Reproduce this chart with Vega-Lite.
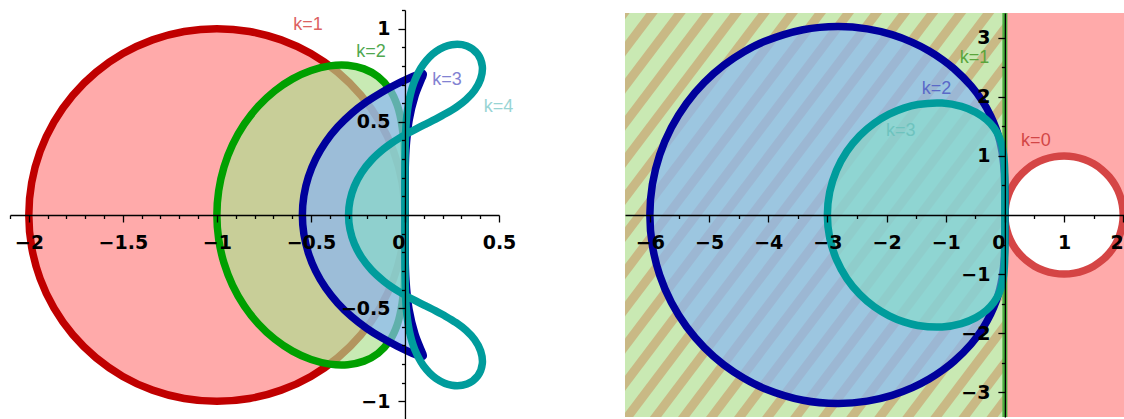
{
  "$schema": "https://vega.github.io/schema/vega-lite/v6.json",
  "background": "white",
  "padding": {"left": 9, "top": 9, "right": 0, "bottom": 0},
  "bounds": "flush",
  "center": true,
  "spacing": 126,
  "resolve": {"scale": {"color": "independent"}},
  "config": {
    "view": {"stroke": null},
    "line": {"interpolate": "catmull-rom", "strokeJoin": "round"},
    "axis": {
      "grid": false,
      "title": null,
      "zindex": 1,
      "domainColor": "black",
      "domainWidth": 1.3,
      "tickColor": "black",
      "tickWidth": 1.3,
      "labelColor": "black",
      "labelFont": "DejaVu Sans",
      "labelFontSize": 19,
      "labelFontWeight": "bold",
      "labelOverlap": false,
      "labelFlush": false,
      "format": "~g"
    }
  },
  "datasets": {
    "ab1": [
      {"i": 0, "re": 0, "im": 0}, {"i": 1, "re": -0.0152, "im": 0.1737}, {"i": 2, "re": -0.0603, "im": 0.342},
      {"i": 3, "re": -0.134, "im": 0.5}, {"i": 4, "re": -0.234, "im": 0.6428}, {"i": 5, "re": -0.3572, "im": 0.766},
      {"i": 6, "re": -0.5, "im": 0.866}, {"i": 7, "re": -0.658, "im": 0.9397}, {"i": 8, "re": -0.8264, "im": 0.9848},
      {"i": 9, "re": -1, "im": 1}, {"i": 10, "re": -1.1736, "im": 0.9848}, {"i": 11, "re": -1.342, "im": 0.9397},
      {"i": 12, "re": -1.5, "im": 0.866}, {"i": 13, "re": -1.6428, "im": 0.766}, {"i": 14, "re": -1.766, "im": 0.6428},
      {"i": 15, "re": -1.866, "im": 0.5}, {"i": 16, "re": -1.9397, "im": 0.342}, {"i": 17, "re": -1.9848, "im": 0.1737},
      {"i": 18, "re": -2, "im": 0}, {"i": 19, "re": -1.9848, "im": -0.1737}, {"i": 20, "re": -1.9397, "im": -0.342},
      {"i": 21, "re": -1.866, "im": -0.5}, {"i": 22, "re": -1.766, "im": -0.6428}, {"i": 23, "re": -1.6428, "im": -0.766},
      {"i": 24, "re": -1.5, "im": -0.866}, {"i": 25, "re": -1.342, "im": -0.9397}, {"i": 26, "re": -1.1736, "im": -0.9848},
      {"i": 27, "re": -1, "im": -1}, {"i": 28, "re": -0.8264, "im": -0.9848}, {"i": 29, "re": -0.658, "im": -0.9397},
      {"i": 30, "re": -0.5, "im": -0.866}, {"i": 31, "re": -0.3572, "im": -0.766}, {"i": 32, "re": -0.234, "im": -0.6428},
      {"i": 33, "re": -0.134, "im": -0.5}, {"i": 34, "re": -0.0603, "im": -0.342}, {"i": 35, "re": -0.0152, "im": -0.1737},
      {"i": 36, "re": 0, "im": 0}
    ],
    "ab2": [
      {"i": 0, "re": 0, "im": 0}, {"i": 1, "re": -0.0002, "im": 0.1724}, {"i": 2, "re": -0.0033, "im": 0.3326},
      {"i": 3, "re": -0.0149, "im": 0.4721}, {"i": 4, "re": -0.0405, "im": 0.5871}, {"i": 5, "re": -0.0831, "im": 0.677},
      {"i": 6, "re": -0.1429, "im": 0.7423}, {"i": 7, "re": -0.2179, "im": 0.7841}, {"i": 8, "re": -0.3049, "im": 0.8031},
      {"i": 9, "re": -0.4, "im": 0.8}, {"i": 10, "re": -0.499, "im": 0.7755}, {"i": 11, "re": -0.5977, "im": 0.7304},
      {"i": 12, "re": -0.6923, "im": 0.6662}, {"i": 13, "re": -0.779, "im": 0.5844}, {"i": 14, "re": -0.8547, "im": 0.4872},
      {"i": 15, "re": -0.9166, "im": 0.3772}, {"i": 16, "re": -0.9624, "im": 0.2572}, {"i": 17, "re": -0.9905, "im": 0.1303},
      {"i": 18, "re": -1, "im": 0}, {"i": 19, "re": -0.9905, "im": -0.1303}, {"i": 20, "re": -0.9624, "im": -0.2572},
      {"i": 21, "re": -0.9166, "im": -0.3772}, {"i": 22, "re": -0.8547, "im": -0.4872}, {"i": 23, "re": -0.779, "im": -0.5844},
      {"i": 24, "re": -0.6923, "im": -0.6662}, {"i": 25, "re": -0.5977, "im": -0.7304}, {"i": 26, "re": -0.499, "im": -0.7755},
      {"i": 27, "re": -0.4, "im": -0.8}, {"i": 28, "re": -0.3049, "im": -0.8031}, {"i": 29, "re": -0.2179, "im": -0.7841},
      {"i": 30, "re": -0.1429, "im": -0.7423}, {"i": 31, "re": -0.0831, "im": -0.677}, {"i": 32, "re": -0.0405, "im": -0.5871},
      {"i": 33, "re": -0.0149, "im": -0.4721}, {"i": 34, "re": -0.0033, "im": -0.3326}, {"i": 35, "re": -0.0002, "im": -0.1724},
      {"i": 36, "re": 0, "im": 0}
    ],
    "ab3": [
      {"i": 0, "re": 0, "im": 0}, {"i": 1, "re": 0.0003, "im": 0.1745}, {"i": 2, "re": 0.0051, "im": 0.347},
      {"i": 3, "re": 0.0221, "im": 0.5083}, {"i": 4, "re": 0.0535, "im": 0.6396}, {"i": 5, "re": 0.0856, "im": 0.7229},
      {"i": 6, "re": 0.0951, "im": 0.7455}, {"i": 7, "re": 0.0972, "im": 0.7573}, {"i": 8, "re": 0.0911, "im": 0.7604},
      {"i": 9, "re": 0.0768, "im": 0.7569}, {"i": 10, "re": 0.0553, "im": 0.7485}, {"i": 11, "re": 0.0275, "im": 0.7364},
      {"i": 12, "re": -0.0414, "im": 0.7034}, {"i": 13, "re": -0.1207, "im": 0.6606}, {"i": 14, "re": -0.2032, "im": 0.6081},
      {"i": 15, "re": -0.2835, "im": 0.5455}, {"i": 16, "re": -0.3574, "im": 0.473}, {"i": 17, "re": -0.422, "im": 0.3912},
      {"i": 18, "re": -0.4746, "im": 0.3011}, {"i": 19, "re": -0.5135, "im": 0.2046}, {"i": 20, "re": -0.5374, "im": 0.1035},
      {"i": 21, "re": -0.5455, "im": 0},
      {"i": 22, "re": -0.5374, "im": -0.1035}, {"i": 23, "re": -0.5135, "im": -0.2046}, {"i": 24, "re": -0.4746, "im": -0.3011},
      {"i": 25, "re": -0.422, "im": -0.3912}, {"i": 26, "re": -0.3574, "im": -0.473}, {"i": 27, "re": -0.2835, "im": -0.5455},
      {"i": 28, "re": -0.2032, "im": -0.6081}, {"i": 29, "re": -0.1207, "im": -0.6606}, {"i": 30, "re": -0.0414, "im": -0.7034},
      {"i": 31, "re": 0.0275, "im": -0.7364}, {"i": 32, "re": 0.0553, "im": -0.7485}, {"i": 33, "re": 0.0768, "im": -0.7569},
      {"i": 34, "re": 0.0911, "im": -0.7604}, {"i": 35, "re": 0.0972, "im": -0.7573}, {"i": 36, "re": 0.0951, "im": -0.7455},
      {"i": 37, "re": 0.0856, "im": -0.7229}, {"i": 38, "re": 0.0535, "im": -0.6396}, {"i": 39, "re": 0.0221, "im": -0.5083},
      {"i": 40, "re": 0.0051, "im": -0.347}, {"i": 41, "re": 0.0003, "im": -0.1745}, {"i": 42, "re": 0, "im": 0}
    ],
    "ab4": [
      {"i": 0, "re": 0, "im": 0}, {"i": 1, "re": 0, "im": 0.0873}, {"i": 2, "re": 0, "im": 0.1746},
      {"i": 3, "re": 0.0002, "im": 0.2622}, {"i": 4, "re": 0.0009, "im": 0.3506}, {"i": 5, "re": 0.0035, "im": 0.4406},
      {"i": 6, "re": 0.01, "im": 0.5327}, {"i": 7, "re": 0.0244, "im": 0.627}, {"i": 8, "re": 0.0519, "im": 0.721},
      {"i": 9, "re": 0.0983, "im": 0.8084}, {"i": 10, "re": 0.166, "im": 0.8775}, {"i": 11, "re": 0.2488, "im": 0.9133},
      {"i": 12, "re": 0.3296, "im": 0.9066}, {"i": 13, "re": 0.3876, "im": 0.8625}, {"i": 14, "re": 0.4113, "im": 0.7976},
      {"i": 15, "re": 0.4024, "im": 0.7297}, {"i": 16, "re": 0.3703, "im": 0.6691}, {"i": 17, "re": 0.3244, "im": 0.6188},
      {"i": 18, "re": 0.272, "im": 0.5779}, {"i": 19, "re": 0.2173, "im": 0.544}, {"i": 20, "re": 0.1631, "im": 0.5146},
      {"i": 21, "re": 0.1104, "im": 0.488}, {"i": 22, "re": 0.0602, "im": 0.4625}, {"i": 23, "re": 0.0127, "im": 0.4371},
      {"i": 24, "re": -0.0319, "im": 0.4112}, {"i": 25, "re": -0.0734, "im": 0.3841}, {"i": 26, "re": -0.1116, "im": 0.3557},
      {"i": 27, "re": -0.1782, "im": 0.2944}, {"i": 28, "re": -0.2309, "im": 0.227}, {"i": 29, "re": -0.2691, "im": 0.1545},
      {"i": 30, "re": -0.2922, "im": 0.0782}, {"i": 31, "re": -0.3, "im": 0},
      {"i": 32, "re": -0.2922, "im": -0.0782}, {"i": 33, "re": -0.2691, "im": -0.1545}, {"i": 34, "re": -0.2309, "im": -0.227},
      {"i": 35, "re": -0.1782, "im": -0.2944}, {"i": 36, "re": -0.1116, "im": -0.3557}, {"i": 37, "re": -0.0734, "im": -0.3841},
      {"i": 38, "re": -0.0319, "im": -0.4112}, {"i": 39, "re": 0.0127, "im": -0.4371}, {"i": 40, "re": 0.0602, "im": -0.4625},
      {"i": 41, "re": 0.1104, "im": -0.488}, {"i": 42, "re": 0.1631, "im": -0.5146}, {"i": 43, "re": 0.2173, "im": -0.544},
      {"i": 44, "re": 0.272, "im": -0.5779}, {"i": 45, "re": 0.3244, "im": -0.6188}, {"i": 46, "re": 0.3703, "im": -0.6691},
      {"i": 47, "re": 0.4024, "im": -0.7297}, {"i": 48, "re": 0.4113, "im": -0.7976}, {"i": 49, "re": 0.3876, "im": -0.8625},
      {"i": 50, "re": 0.3296, "im": -0.9066}, {"i": 51, "re": 0.2488, "im": -0.9133}, {"i": 52, "re": 0.166, "im": -0.8775},
      {"i": 53, "re": 0.0983, "im": -0.8084}, {"i": 54, "re": 0.0519, "im": -0.721}, {"i": 55, "re": 0.0244, "im": -0.627},
      {"i": 56, "re": 0.01, "im": -0.5327}, {"i": 57, "re": 0.0035, "im": -0.4406}, {"i": 58, "re": 0.0009, "im": -0.3506},
      {"i": 59, "re": 0.0002, "im": -0.2622}, {"i": 60, "re": 0, "im": -0.1746}, {"i": 61, "re": 0, "im": -0.0873},
      {"i": 62, "re": 0, "im": 0}
    ],
    "ab4Stable": [
      {"i": 0, "re": 0, "im": 0}, {"i": 1, "re": 0, "im": 0.0873}, {"i": 2, "re": 0, "im": 0.1746},
      {"i": 3, "re": 0.0002, "im": 0.2622}, {"i": 4, "re": 0.0009, "im": 0.3506}, {"i": 5, "re": 0.0032, "im": 0.4317},
      {"i": 6, "re": -0.0319, "im": 0.4112}, {"i": 7, "re": -0.0734, "im": 0.3841}, {"i": 8, "re": -0.1116, "im": 0.3557},
      {"i": 9, "re": -0.1782, "im": 0.2944}, {"i": 10, "re": -0.2309, "im": 0.227}, {"i": 11, "re": -0.2691, "im": 0.1545},
      {"i": 12, "re": -0.2922, "im": 0.0782}, {"i": 13, "re": -0.3, "im": 0}, {"i": 14, "re": -0.2922, "im": -0.0782},
      {"i": 15, "re": -0.2691, "im": -0.1545}, {"i": 16, "re": -0.2309, "im": -0.227}, {"i": 17, "re": -0.1782, "im": -0.2944},
      {"i": 18, "re": -0.1116, "im": -0.3557}, {"i": 19, "re": -0.0734, "im": -0.3841}, {"i": 20, "re": -0.0319, "im": -0.4112},
      {"i": 21, "re": 0.0032, "im": -0.4317}, {"i": 22, "re": 0.0009, "im": -0.3506}, {"i": 23, "re": 0.0002, "im": -0.2622},
      {"i": 24, "re": 0, "im": -0.1746}, {"i": 25, "re": 0, "im": -0.0873}, {"i": 26, "re": 0, "im": 0}
    ],
    "abNotes": [
      {"k": "k=1", "re": -0.516, "im": 1.017},
      {"k": "k=2", "re": -0.181, "im": 0.873},
      {"k": "k=3", "re": 0.223, "im": 0.724},
      {"k": "k=4", "re": 0.498, "im": 0.582}
    ],
    "halfPlanes": [
      {"side": "Re<0", "re": -6.42, "re2": 0, "im": -3.42, "im2": 3.42},
      {"side": "Re>0", "re": 0, "re2": 2.03, "im": -3.42, "im2": 3.42}
    ],
    "hatch": [
      {"ra": -12.201, "ia": -3.6, "rb": -6.775, "ib": 3.6}, {"ra": -11.727, "ia": -3.6, "rb": -6.301, "ib": 3.6},
      {"ra": -11.253, "ia": -3.6, "rb": -5.827, "ib": 3.6}, {"ra": -10.779, "ia": -3.6, "rb": -5.353, "ib": 3.6},
      {"ra": -10.305, "ia": -3.6, "rb": -4.879, "ib": 3.6}, {"ra": -9.831, "ia": -3.6, "rb": -4.405, "ib": 3.6},
      {"ra": -9.357, "ia": -3.6, "rb": -3.931, "ib": 3.6}, {"ra": -8.883, "ia": -3.6, "rb": -3.457, "ib": 3.6},
      {"ra": -8.409, "ia": -3.6, "rb": -2.983, "ib": 3.6}, {"ra": -7.935, "ia": -3.6, "rb": -2.509, "ib": 3.6},
      {"ra": -7.461, "ia": -3.6, "rb": -2.035, "ib": 3.6}, {"ra": -6.987, "ia": -3.6, "rb": -1.561, "ib": 3.6},
      {"ra": -6.513, "ia": -3.6, "rb": -1.087, "ib": 3.6}, {"ra": -6.039, "ia": -3.6, "rb": -0.613, "ib": 3.6},
      {"ra": -5.565, "ia": -3.6, "rb": -0.139, "ib": 3.6}, {"ra": -5.091, "ia": -3.6, "rb": 0.335, "ib": 3.6},
      {"ra": -4.617, "ia": -3.6, "rb": 0.809, "ib": 3.6}, {"ra": -4.143, "ia": -3.6, "rb": 1.283, "ib": 3.6},
      {"ra": -3.669, "ia": -3.6, "rb": 1.757, "ib": 3.6}, {"ra": -3.195, "ia": -3.6, "rb": 2.231, "ib": 3.6},
      {"ra": -2.721, "ia": -3.6, "rb": 2.705, "ib": 3.6}, {"ra": -2.247, "ia": -3.6, "rb": 3.179, "ib": 3.6},
      {"ra": -1.773, "ia": -3.6, "rb": 3.653, "ib": 3.6}, {"ra": -1.299, "ia": -3.6, "rb": 4.127, "ib": 3.6},
      {"ra": -0.825, "ia": -3.6, "rb": 4.601, "ib": 3.6}, {"ra": -0.351, "ia": -3.6, "rb": 5.075, "ib": 3.6},
      {"ra": 0.123, "ia": -3.6, "rb": 5.549, "ib": 3.6}
    ],
    "am0": [
      {"i": 0, "re": 0, "im": 0}, {"i": 1, "re": 0.0152, "im": 0.1737}, {"i": 2, "re": 0.0603, "im": 0.342},
      {"i": 3, "re": 0.134, "im": 0.5}, {"i": 4, "re": 0.234, "im": 0.6428}, {"i": 5, "re": 0.3572, "im": 0.766},
      {"i": 6, "re": 0.5, "im": 0.866}, {"i": 7, "re": 0.658, "im": 0.9397}, {"i": 8, "re": 0.8264, "im": 0.9848},
      {"i": 9, "re": 1, "im": 1}, {"i": 10, "re": 1.1736, "im": 0.9848}, {"i": 11, "re": 1.342, "im": 0.9397},
      {"i": 12, "re": 1.5, "im": 0.866}, {"i": 13, "re": 1.6428, "im": 0.766}, {"i": 14, "re": 1.766, "im": 0.6428},
      {"i": 15, "re": 1.866, "im": 0.5}, {"i": 16, "re": 1.9397, "im": 0.342}, {"i": 17, "re": 1.9848, "im": 0.1737},
      {"i": 18, "re": 2, "im": 0}, {"i": 19, "re": 1.9848, "im": -0.1737}, {"i": 20, "re": 1.9397, "im": -0.342},
      {"i": 21, "re": 1.866, "im": -0.5}, {"i": 22, "re": 1.766, "im": -0.6428}, {"i": 23, "re": 1.6428, "im": -0.766},
      {"i": 24, "re": 1.5, "im": -0.866}, {"i": 25, "re": 1.342, "im": -0.9397}, {"i": 26, "re": 1.1736, "im": -0.9848},
      {"i": 27, "re": 1, "im": -1}, {"i": 28, "re": 0.8264, "im": -0.9848}, {"i": 29, "re": 0.658, "im": -0.9397},
      {"i": 30, "re": 0.5, "im": -0.866}, {"i": 31, "re": 0.3572, "im": -0.766}, {"i": 32, "re": 0.234, "im": -0.6428},
      {"i": 33, "re": 0.134, "im": -0.5}, {"i": 34, "re": 0.0603, "im": -0.342}, {"i": 35, "re": 0.0152, "im": -0.1737},
      {"i": 36, "re": 0, "im": 0}
    ],
    "am1": [
      {"i": 0, "re": 0, "im": -3.42}, {"i": 1, "re": 0, "im": 3.42}
    ],
    "am2": [
      {"i": 0, "re": 0, "im": 0}, {"i": 1, "re": 0, "im": 0.1745}, {"i": 2, "re": -0.0006, "im": 0.3491},
      {"i": 3, "re": -0.0031, "im": 0.5242}, {"i": 4, "re": -0.0096, "im": 0.7005}, {"i": 5, "re": -0.023, "im": 0.8796},
      {"i": 6, "re": -0.0472, "im": 1.0638}, {"i": 7, "re": -0.0869, "im": 1.256}, {"i": 8, "re": -0.1483, "im": 1.46},
      {"i": 9, "re": -0.24, "im": 1.68}, {"i": 10, "re": -0.3745, "im": 1.9205}, {"i": 11, "re": -0.5705, "im": 2.1853},
      {"i": 12, "re": -0.8571, "im": 2.4744}, {"i": 13, "re": -1.0479, "im": 2.6255}, {"i": 14, "re": -1.2801, "im": 2.777},
      {"i": 15, "re": -1.5631, "im": 2.9231}, {"i": 16, "re": -1.9078, "im": 3.0534}, {"i": 17, "re": -2.3255, "im": 3.1515},
      {"i": 18, "re": -2.8257, "im": 3.1917}, {"i": 19, "re": -3.4111, "im": 3.1364}, {"i": 20, "re": -4.0676, "im": 2.9358},
      {"i": 21, "re": -4.4093, "im": 2.7636}, {"i": 22, "re": -4.7518, "im": 2.5349}, {"i": 23, "re": -5.0795, "im": 2.2452},
      {"i": 24, "re": -5.3795, "im": 1.8934}, {"i": 25, "re": -5.6359, "im": 1.4823}, {"i": 26, "re": -5.833, "im": 1.0202},
      {"i": 27, "re": -5.9574, "im": 0.5201}, {"i": 28, "re": -6, "im": 0},
      {"i": 29, "re": -5.9574, "im": -0.5201}, {"i": 30, "re": -5.833, "im": -1.0202}, {"i": 31, "re": -5.6359, "im": -1.4823},
      {"i": 32, "re": -5.3795, "im": -1.8934}, {"i": 33, "re": -5.0795, "im": -2.2452}, {"i": 34, "re": -4.7518, "im": -2.5349},
      {"i": 35, "re": -4.4093, "im": -2.7636}, {"i": 36, "re": -4.0676, "im": -2.9358}, {"i": 37, "re": -3.4111, "im": -3.1364},
      {"i": 38, "re": -2.8257, "im": -3.1917}, {"i": 39, "re": -2.3255, "im": -3.1515}, {"i": 40, "re": -1.9078, "im": -3.0534},
      {"i": 41, "re": -1.5631, "im": -2.9231}, {"i": 42, "re": -1.2801, "im": -2.777}, {"i": 43, "re": -1.0479, "im": -2.6255},
      {"i": 44, "re": -0.8571, "im": -2.4744}, {"i": 45, "re": -0.5705, "im": -2.1853}, {"i": 46, "re": -0.3745, "im": -1.9205},
      {"i": 47, "re": -0.24, "im": -1.68}, {"i": 48, "re": -0.1483, "im": -1.46}, {"i": 49, "re": -0.0869, "im": -1.256},
      {"i": 50, "re": -0.0472, "im": -1.0638}, {"i": 51, "re": -0.023, "im": -0.8796}, {"i": 52, "re": -0.0096, "im": -0.7005},
      {"i": 53, "re": -0.0031, "im": -0.5242}, {"i": 54, "re": -0.0006, "im": -0.3491}, {"i": 55, "re": 0, "im": -0.1745},
      {"i": 56, "re": 0, "im": 0}
    ],
    "am3": [
      {"i": 0, "re": 0, "im": 0}, {"i": 1, "re": 0, "im": 0.1745}, {"i": 2, "re": 0, "im": 0.3489},
      {"i": 3, "re": -0.0004, "im": 0.5227}, {"i": 4, "re": -0.0022, "im": 0.6945}, {"i": 5, "re": -0.0079, "im": 0.8628},
      {"i": 6, "re": -0.0219, "im": 1.0259}, {"i": 7, "re": -0.0506, "im": 1.1828}, {"i": 8, "re": -0.1017, "im": 1.3331},
      {"i": 9, "re": -0.1846, "im": 1.4769}, {"i": 10, "re": -0.3096, "im": 1.613}, {"i": 11, "re": -0.4887, "im": 1.737},
      {"i": 12, "re": -0.7347, "im": 1.8381}, {"i": 13, "re": -1.0605, "im": 1.8949}, {"i": 14, "re": -1.4721, "im": 1.87},
      {"i": 15, "re": -1.7071, "im": 1.81}, {"i": 16, "re": -1.9552, "im": 1.7074}, {"i": 17, "re": -2.2078, "im": 1.5544},
      {"i": 18, "re": -2.452, "im": 1.3447}, {"i": 19, "re": -2.6711, "im": 1.0765}, {"i": 20, "re": -2.8465, "im": 0.7538},
      {"i": 21, "re": -2.9604, "im": 0.3886}, {"i": 22, "re": -3, "im": 0},
      {"i": 23, "re": -2.9604, "im": -0.3886}, {"i": 24, "re": -2.8465, "im": -0.7538}, {"i": 25, "re": -2.6711, "im": -1.0765},
      {"i": 26, "re": -2.452, "im": -1.3447}, {"i": 27, "re": -2.2078, "im": -1.5544}, {"i": 28, "re": -1.9552, "im": -1.7074},
      {"i": 29, "re": -1.7071, "im": -1.81}, {"i": 30, "re": -1.4721, "im": -1.87}, {"i": 31, "re": -1.0605, "im": -1.8949},
      {"i": 32, "re": -0.7347, "im": -1.8381}, {"i": 33, "re": -0.4887, "im": -1.737}, {"i": 34, "re": -0.3096, "im": -1.613},
      {"i": 35, "re": -0.1846, "im": -1.4769}, {"i": 36, "re": -0.1017, "im": -1.3331}, {"i": 37, "re": -0.0506, "im": -1.1828},
      {"i": 38, "re": -0.0219, "im": -1.0259}, {"i": 39, "re": -0.0079, "im": -0.8628}, {"i": 40, "re": -0.0022, "im": -0.6945},
      {"i": 41, "re": -0.0004, "im": -0.5227}, {"i": 42, "re": 0, "im": -0.3489}, {"i": 43, "re": 0, "im": -0.1745},
      {"i": 44, "re": 0, "im": 0}
    ],
    "amNotes": [
      {"k": "k=0", "re": 0.524, "im": 1.248},
      {"k": "k=1", "re": -0.515, "im": 2.663},
      {"k": "k=2", "re": -1.155, "im": 2.135},
      {"k": "k=3", "re": -1.758, "im": 1.424}
    ]
  },
  "hconcat": [
    {
      "width": 489,
      "height": 410,
      "resolve": {"axis": {"x": "independent", "y": "independent"}},
      "encoding": {
        "x": {"field": "re", "type": "quantitative", "scale": {"domain": [-2.1, 0.5], "nice": false, "zero": false}, "axis": null},
        "y": {"field": "im", "type": "quantitative", "scale": {"domain": [-1.1, 1.1], "nice": false, "zero": false}, "axis": null},
        "order": {"field": "i"}
      },
      "layer": [
        {
          "data": {"name": "ab1"},
          "mark": {"type": "line", "fill": "#ffaaaa", "strokeOpacity": 0, "strokeWidth": 0},
          "encoding": {
            "x": {"field": "re", "type": "quantitative", "scale": {"domain": [-2.1, 0.5], "nice": false, "zero": false},
              "axis": {"orient": "bottom", "offset": -205, "zindex": 2, "values": [-2, -1.5, -1, -0.5, 0, 0.5], "tickSize": 7, "labelPadding": 11,
                "labelAlign": {"condition": {"test": "datum.value === 0", "value": "right"}, "value": "center"},
                "labelExpr": "datum.value === 0 ? '0\u00a0' : datum.label"}},
            "y": {"field": "im", "type": "quantitative", "scale": {"domain": [-1.1, 1.1], "nice": false, "zero": false},
              "axis": {"orient": "left", "offset": -394.96, "zindex": 2, "values": [-1, -0.5, 0.5, 1], "tickSize": 7, "labelPadding": 8}}
          }
        },
        {
          "data": {"name": "ab1"},
          "mark": {"type": "line", "stroke": "#c00000", "strokeWidth": 7.5},
          "encoding": {
            "x": {"field": "re", "type": "quantitative", "scale": {"domain": [-2.1, 0.5], "nice": false, "zero": false},
              "axis": {"orient": "bottom", "offset": -205, "zindex": 2, "domain": false, "labels": false, "tickSize": 3.5,
                "values": [-2.1, -1.9, -1.8, -1.7, -1.6, -1.4, -1.3, -1.2, -1.1, -0.9, -0.8, -0.7, -0.6, -0.4, -0.3, -0.2, -0.1, 0.1, 0.2, 0.3, 0.4]}},
            "y": {"field": "im", "type": "quantitative", "scale": {"domain": [-1.1, 1.1], "nice": false, "zero": false},
              "axis": {"orient": "left", "offset": -394.96, "zindex": 2, "domain": false, "labels": false, "tickSize": 3.5,
                "values": [-1.1, -0.9, -0.8, -0.7, -0.6, -0.4, -0.3, -0.2, -0.1, 0.1, 0.2, 0.3, 0.4, 0.6, 0.7, 0.8, 0.9, 1.1]}}
          }
        },
        {"data": {"name": "ab2"}, "mark": {"type": "line", "fill": "#acdf8e", "fillOpacity": 0.665, "strokeOpacity": 0, "strokeWidth": 0}},
        {"data": {"name": "ab2"}, "mark": {"type": "line", "stroke": "#00a000", "strokeWidth": 7.5}},
        {"data": {"name": "ab3"}, "mark": {"type": "line", "fill": "#89b7f3", "fillOpacity": 0.7, "strokeOpacity": 0, "strokeWidth": 0}},
        {"data": {"name": "ab3"}, "mark": {"type": "line", "stroke": "#00009c", "strokeWidth": 7.5}},
        {"data": {"name": "ab4Stable"}, "mark": {"type": "line", "fill": "#82e4c4", "fillOpacity": 0.5, "strokeOpacity": 0, "strokeWidth": 0}},
        {"data": {"name": "ab4"}, "mark": {"type": "line", "stroke": "#009c9c", "strokeWidth": 7.5}},
        {
          "data": {"name": "abNotes"},
          "mark": {"type": "text", "font": "Liberation Sans", "fontSize": 18, "align": "center", "baseline": "middle"},
          "encoding": {
            "text": {"field": "k"},
            "color": {"field": "k", "type": "nominal", "legend": null,
              "scale": {"domain": ["k=1", "k=2", "k=3", "k=4"], "range": ["#dc6262", "#50a850", "#8282d2", "#98d4d4"]}}
          }
        }
      ]
    },
    {
      "width": 500,
      "height": 404,
      "resolve": {"axis": {"x": "independent", "y": "independent"}},
      "encoding": {
        "x": {"field": "re", "type": "quantitative", "scale": {"domain": [-6.42, 2.03], "nice": false, "zero": false}, "axis": null},
        "y": {"field": "im", "type": "quantitative", "scale": {"domain": [-3.42, 3.42], "nice": false, "zero": false}, "axis": null},
        "order": {"field": "i"}
      },
      "layer": [
        {
          "data": {"name": "halfPlanes"},
          "transform": [{"filter": "datum.side === 'Re<0'"}],
          "mark": {"type": "rect", "fill": "#c9e9b3", "clip": true},
          "encoding": {"x2": {"field": "re2"}, "y2": {"field": "im2"}}
        },
        {
          "data": {"name": "hatch"},
          "mark": {"type": "rule", "stroke": "#c9b985", "strokeWidth": 9, "clip": true},
          "encoding": {
            "x": {"field": "ra", "type": "quantitative", "scale": {"domain": [-6.42, 2.03], "nice": false, "zero": false}, "axis": null},
            "y": {"field": "ia", "type": "quantitative", "scale": {"domain": [-3.42, 3.42], "nice": false, "zero": false}, "axis": null},
            "x2": {"field": "rb"},
            "y2": {"field": "ib"}
          }
        },
        {
          "data": {"name": "halfPlanes"},
          "transform": [{"filter": "datum.side === 'Re>0'"}],
          "mark": {"type": "rect", "fill": "#ffaaaa", "clip": true},
          "encoding": {"x2": {"field": "re2"}, "y2": {"field": "im2"}}
        },
        {"data": {"name": "am0"}, "mark": {"type": "line", "fill": "white", "stroke": "#d54545", "strokeWidth": 7.5, "clip": true}},
        {"data": {"name": "am1"}, "mark": {"type": "line", "interpolate": "linear", "stroke": "#4caf40", "strokeWidth": 5, "clip": true}},
        {
          "data": {"name": "am2"},
          "mark": {"type": "line", "fill": "#89b7f3", "fillOpacity": 0.7, "strokeOpacity": 0, "strokeWidth": 0, "clip": true},
          "encoding": {
            "x": {"field": "re", "type": "quantitative", "scale": {"domain": [-6.42, 2.03], "nice": false, "zero": false},
              "axis": {"orient": "bottom", "offset": -202, "zindex": 2, "values": [-6, -5, -4, -3, -2, -1, 0, 1, 2], "tickSize": 7, "labelPadding": 11,
                "labelAlign": {"condition": {"test": "datum.value === 0 || datum.value === 2", "value": "right"}, "value": "center"},
                "labelExpr": "datum.value === 0 ? '0\u00a0' : datum.label"}},
            "y": {"field": "im", "type": "quantitative", "scale": {"domain": [-3.42, 3.42], "nice": false, "zero": false},
              "axis": {"orient": "left", "offset": -379.88, "zindex": 2, "values": [-3, -2, -1, 1, 2, 3], "tickSize": 7, "labelPadding": 8}}
          }
        },
        {
          "data": {"name": "am2"},
          "mark": {"type": "line", "stroke": "#00009c", "strokeWidth": 7.5, "clip": true},
          "encoding": {
            "x": {"field": "re", "type": "quantitative", "scale": {"domain": [-6.42, 2.03], "nice": false, "zero": false},
              "axis": {"orient": "bottom", "offset": -202, "zindex": 2, "domain": false, "labels": false, "tickSize": 3.5,
                "values": [-5.5, -4.5, -3.5, -2.5, -1.5, -0.5, 0.5, 1.5]}},
            "y": {"field": "im", "type": "quantitative", "scale": {"domain": [-3.42, 3.42], "nice": false, "zero": false},
              "axis": {"orient": "left", "offset": -379.88, "zindex": 2, "domain": false, "labels": false, "tickSize": 3.5,
                "values": [-2.5, -1.5, -0.5, 0.5, 1.5, 2.5]}}
          }
        },
        {"data": {"name": "am3"}, "mark": {"type": "line", "fill": "#82e4c4", "fillOpacity": 0.5, "strokeOpacity": 0, "strokeWidth": 0, "clip": true}},
        {"data": {"name": "am3"}, "mark": {"type": "line", "stroke": "#009c9c", "strokeWidth": 7.5, "clip": true}},
        {
          "data": {"name": "amNotes"},
          "mark": {"type": "text", "font": "Liberation Sans", "fontSize": 18, "align": "center", "baseline": "middle"},
          "encoding": {
            "text": {"field": "k"},
            "color": {"field": "k", "type": "nominal", "legend": null,
              "scale": {"domain": ["k=0", "k=1", "k=2", "k=3"], "range": ["#d24646", "#5aa53c", "#5a69c8", "#6ec3be"]}}
          }
        }
      ]
    }
  ]
}
